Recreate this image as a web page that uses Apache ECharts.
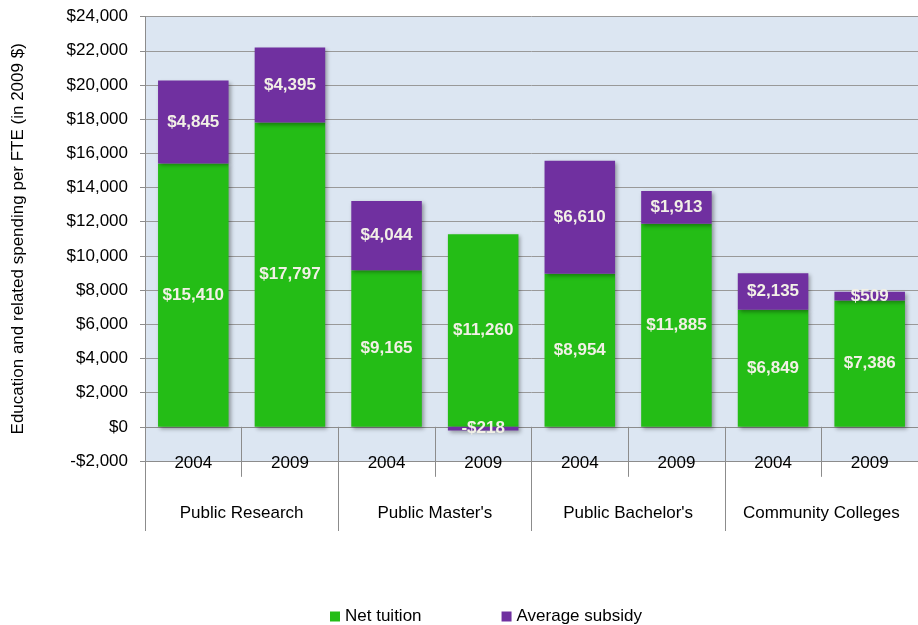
<!DOCTYPE html>
<html><head><meta charset="utf-8">
<script src="https://cdn.jsdelivr.net/npm/echarts@6/dist/echarts.min.js"></script>
<style>html,body{margin:0;padding:0;background:#fff}#c{width:918px;height:625px}</style>
</head><body><div id="c"></div>
<script>
const years = ['2004','2009','2004','2009','2004','2009','2004','2009'];
const groups = ['Public Research',"Public Master's","Public Bachelor's",'Community Colleges'];
const netTuition = [15410, 17797, 9165, 11260, 8954, 11885, 6849, 7386];
const avgSubsidy = [4845, 4395, 4044, -218, 6610, 1913, 2135, 509];
const yTicks = [-2000, 24000, 2000];

const fmt = v => (v < 0 ? '-$' : '$') + Math.abs(v).toLocaleString('en-US');
const font = 'Liberation Sans, Arial, sans-serif';
const lbl = {show:true, position:'inside', color:'#F2F0E6', fontWeight:'bold', fontSize:17, fontFamily:font,
  formatter: p => fmt(p.value)};
const shadow = {shadowBlur:4, shadowOffsetX:2, shadowOffsetY:2, shadowColor:'rgba(0,0,0,0.35)'};

const chart = echarts.init(document.getElementById('c'), null, {renderer:'canvas'});
chart.setOption({
  animation:false,
  textStyle:{fontFamily:font},
  grid:{left:145, right:0, top:16.6, bottom:164, outerBoundsMode:'none', containLabel:false,
    backgroundColor:'#DCE6F2', show:true, borderWidth:0},
  legend:{left:325, top:603, itemWidth:10, itemHeight:10, itemGap:80, icon:'rect',
    textStyle:{fontSize:17, color:'#000', fontFamily:font},
    data:['Net tuition','Average subsidy']},
  xAxis:[{
    type:'category', data:years, position:'bottom',
    axisLine:{onZero:true, lineStyle:{color:'#8C8C8C'}},
    axisTick:{show:true, length:50, alignWithLabel:false, lineStyle:{color:'#8C8C8C'}},
    axisLabel:{margin:-6, fontSize:17, color:'#000', fontFamily:font, interval:0}
  },{
    type:'category', data:groups, position:'bottom',
    axisLine:{onZero:true, lineStyle:{color:'#8C8C8C'}},
    axisTick:{show:true, length:70, lineStyle:{color:'#8C8C8C'}},
    axisLabel:{margin:44, fontSize:17, color:'#000', fontFamily:font, interval:0}
  }],
  yAxis:{type:'value', min:yTicks[0], max:yTicks[1], interval:yTicks[2],
    name:'Education and related spending per FTE (in 2009 $)', nameLocation:'middle', nameGap:118,
    nameTextStyle:{fontSize:17, color:'#000', fontFamily:font},
    axisLine:{show:true, lineStyle:{color:'#8C8C8C'}},
    axisTick:{show:true, length:5, lineStyle:{color:'#8C8C8C'}},
    axisLabel:{fontSize:17, color:'#000', fontFamily:font, margin:17, formatter: v => fmt(v)},
    splitLine:{show:true, lineStyle:{color:'#999999'}}
  },
  series:[
    {name:'Net tuition', type:'bar', stack:'s', data:netTuition, barWidth:'73%',
      itemStyle:Object.assign({color:'#24BD16'}, shadow), label:lbl},
    {name:'Average subsidy', type:'bar', stack:'s', data:avgSubsidy, barWidth:'73%',
      itemStyle:Object.assign({color:'#7030A0'}, shadow), label:lbl}
  ]
});
</script></body></html>
